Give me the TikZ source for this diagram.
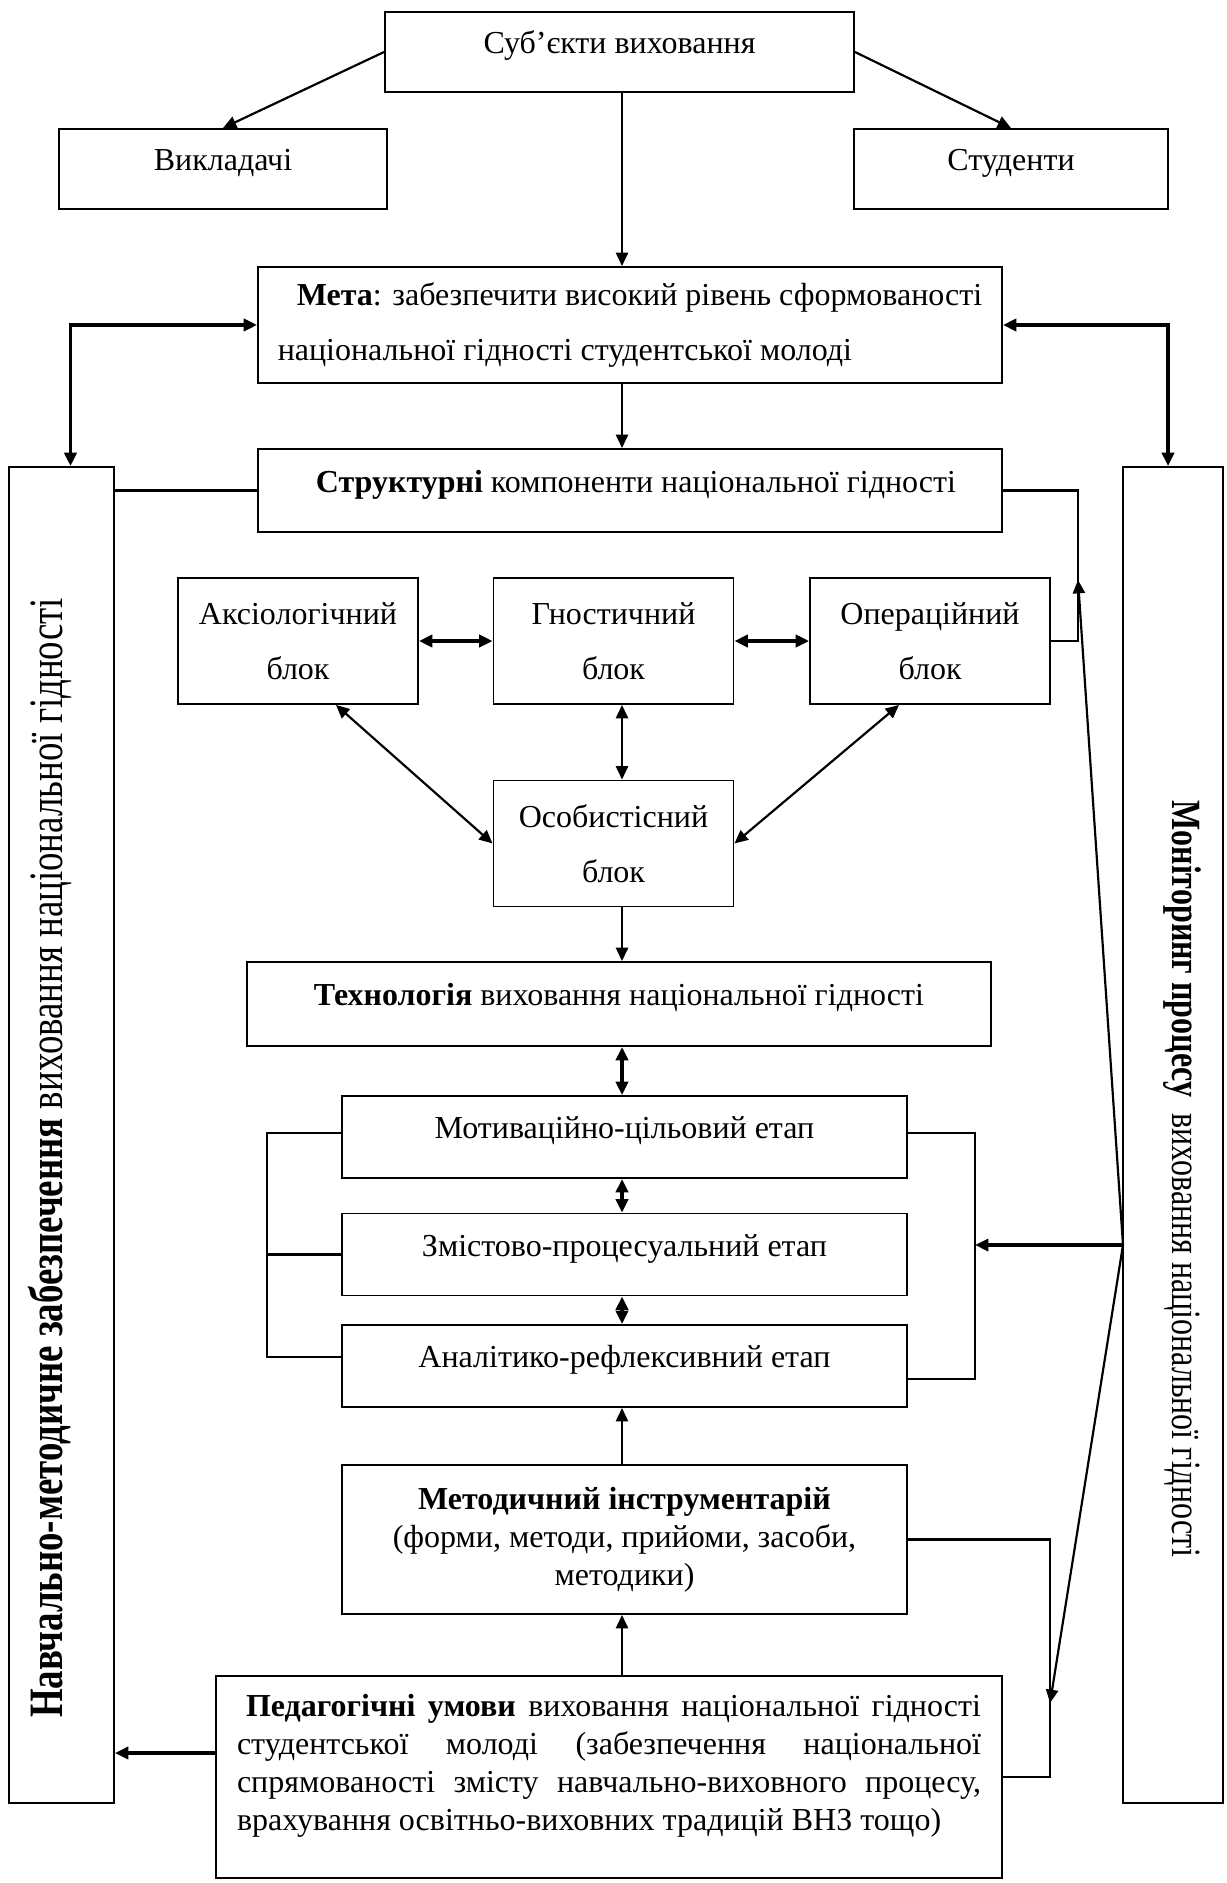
\documentclass[tikz,border=0pt]{standalone}
\usepackage{graphicx}
\usepackage{fontspec}
\setmainfont{Liberation Serif}
\usetikzlibrary{arrows.meta,positioning,calc}
\newlength{\pxu}
\setlength{\pxu}{0.0145cm}

\begin{document}
\begin{tikzpicture}[
    x=0.0145cm, y=-0.0145cm,
    font=\fontsize{13.2}{16}\selectfont,
    >={Triangle[length=5.5pt,width=5pt]},
    conn/.style={line width=0.9pt},
    box/.style={draw, rectangle, line width=0.8pt, align=center},
    one/.style={text height=0.7em, text depth=0.55em},
    blk/.style={box, minimum width=240*\pxu, minimum height=126*\pxu, font=\fontsize{13.2}{22.6}\selectfont},
    etap/.style={box, one, minimum width=565*\pxu, minimum height=82*\pxu},
    side/.style={draw, rectangle, line width=0.8pt, minimum width=#1*\pxu, minimum height=1336*\pxu}
  ]
  \useasboundingbox (0,0) rectangle (1226,1883);

  % суб'єкти
  \node[box, one, minimum width=469*\pxu, minimum height=80*\pxu] (subj) at (619.5,52) {Суб’єкти виховання};
  \node[box, one, minimum width=328*\pxu, minimum height=80*\pxu] (vykl) at (223,169) {Викладачі};
  \node[box, one, minimum width=314*\pxu, minimum height=80*\pxu] (stud) at (1011,169) {Студенти};

  % мета і компоненти
  \node[box, align=left, minimum width=744*\pxu, minimum height=116*\pxu, font=\fontsize{13.2}{23}\selectfont] (meta) at (630,325)
    {\hspace*{19\pxu}\textbf{Мета}: забезпечити високий рівень сформованості\\національної гідності студентської молоді};
  \node[box, one, minimum width=744*\pxu, minimum height=83*\pxu] (struct) at (630,490.5) {\hspace*{12\pxu}\textbf{Структурні} компоненти національної гідності};

  % бічні блоки
  \node[side=105] (navch) at (61.5,1135) {};
  \node[side=100] (monit) at (1173,1135) {};
  \node[rotate=90, font=\fontsize{15.2}{18}\selectfont] (navlbl) at (50,1158)
    {\scalebox{1}[1.3]{\textbf{Навчально-методичне забезпечення} виховання національної гідності}};
  \node[rotate=-90, font=\fontsize{13.2}{16}\selectfont] (monlbl) at (1182,1179)
    {\scalebox{1}[1.3]{\textbf{Моніторинг процесу}\ \ виховання національної гідності}};

  % блоки
  \node[blk] (aksio) at (298,641) {Аксіологічний\\блок};
  \node[blk] (gnost) at (613.5,641) {Гностичний\\блок};
  \node[blk] (oper) at (930,641) {Операційний\\блок};
  \node[blk] (osob) at (613.5,843.5) {Особистісний\\блок};

  % технологія
  \node[box, one, minimum width=744*\pxu, minimum height=84*\pxu] (tech) at (619,1004) {\textbf{Технологія} виховання національної гідності};
  \node[etap] (motiv) at (624.5,1137) {Мотиваційно-цільовий етап};
  \node[etap] (zmist) at (624.5,1254.5) {Змістово-процесуальний етап};
  \node[etap] (analit) at (624.5,1366) {Аналітико-рефлексивний етап};
  \node[box, minimum width=565*\pxu, minimum height=149*\pxu, font=\fontsize{13.2}{15.6}\selectfont] (method) at (624.5,1539.5)
    {\textbf{Методичний інструментарій}\\(форми, методи, прийоми, засоби,\\методики)};
  \node[box, align=left, text depth=12pt, minimum width=786*\pxu, minimum height=202*\pxu, font=\fontsize{13.2}{15.6}\selectfont] (ped) at (609,1777)
    {\makebox[744\pxu][s]{\hspace*{9\pxu}\textbf{Педагогічні умови} виховання національної гідності}\\
     \makebox[744\pxu][s]{студентської молоді (забезпечення національної}\\
     \makebox[744\pxu][s]{спрямованості змісту навчально-виховного процесу,}\\
     \makebox[744\pxu][l]{врахування освітньо-виховних традицій ВНЗ тощо)}};

  \coordinate (axis) at (622,0);
  \coordinate (up) at (1078,580);
  \coordinate (hub) at (1123,1245);
  \coordinate (dn) at (1050,1703);
  \coordinate (rbr) at (975,1133);
  \coordinate (lbr) at (267,1133);

  \draw[->, conn] (subj.west) -- (vykl.north);
  \draw[->, conn] (subj.east) -- (stud.north);
  \draw[->, conn] (subj.south -| axis) -- (meta.north -| axis);
  \draw[<->, line width=1.3pt] (meta.west) -| ([xshift=9*\pxu]navch.north);
  \draw[<->, line width=1.3pt] (meta.east) -| ([xshift=-5*\pxu]monit.north);
  \draw[->, conn] (meta.south -| axis) -- (struct.north -| axis);
  \draw[conn] (struct.west) -- (struct.west -| navch.east);
  \draw[conn] (struct.east) -| (oper.east -| up) -- (oper.east);

  \draw[<->, line width=1.3pt] (aksio) -- (gnost);
  \draw[<->, line width=1.3pt] (gnost) -- (oper);
  \draw[<->, conn] (gnost.south -| axis) -- (osob.north -| axis);
  \draw[<->, conn] ([xshift=38*\pxu]aksio.south) -- (osob.west);
  \draw[<->, conn] ([xshift=-31*\pxu]oper.south) -- (osob.east);
  \draw[->, conn] (osob.south -| axis) -- (tech.north -| axis);

  \draw[<->, line width=1.3pt] (tech.south -| axis) -- (motiv.north -| axis);
  \draw[<->, line width=1.3pt] (motiv.south -| axis) -- (zmist.north -| axis);
  \draw[<->, line width=1.3pt] (zmist.south -| axis) -- (analit.north -| axis);
  \draw[->, conn] (method.north -| axis) -- (analit.south -| axis);
  \draw[->, conn] (ped.north -| axis) -- (method.south -| axis);

  % дужки етапів
  \draw[conn] ([yshift=4*\pxu]motiv.west) -- (lbr) |- ([yshift=9*\pxu]analit.west);
  \draw[conn] (zmist.west) -- (zmist.west -| lbr);
  \draw[conn] ([yshift=4*\pxu]motiv.east) -- (rbr) |- ([yshift=-13*\pxu]analit.east);

  % моніторинг
  \draw[->, line width=1.3pt] (hub) -- (hub -| rbr);
  \draw[->, conn] (hub) -- (up);
  \draw[->, conn] (hub) -- (dn);
  \draw[conn] (method.east) -| (ped.east -| dn) -- (ped.east);
  \draw[->, line width=1.3pt] ([yshift=24*\pxu]ped.west) -- ([yshift=24*\pxu]ped.west -| navch.east);
\end{tikzpicture}
\end{document}
